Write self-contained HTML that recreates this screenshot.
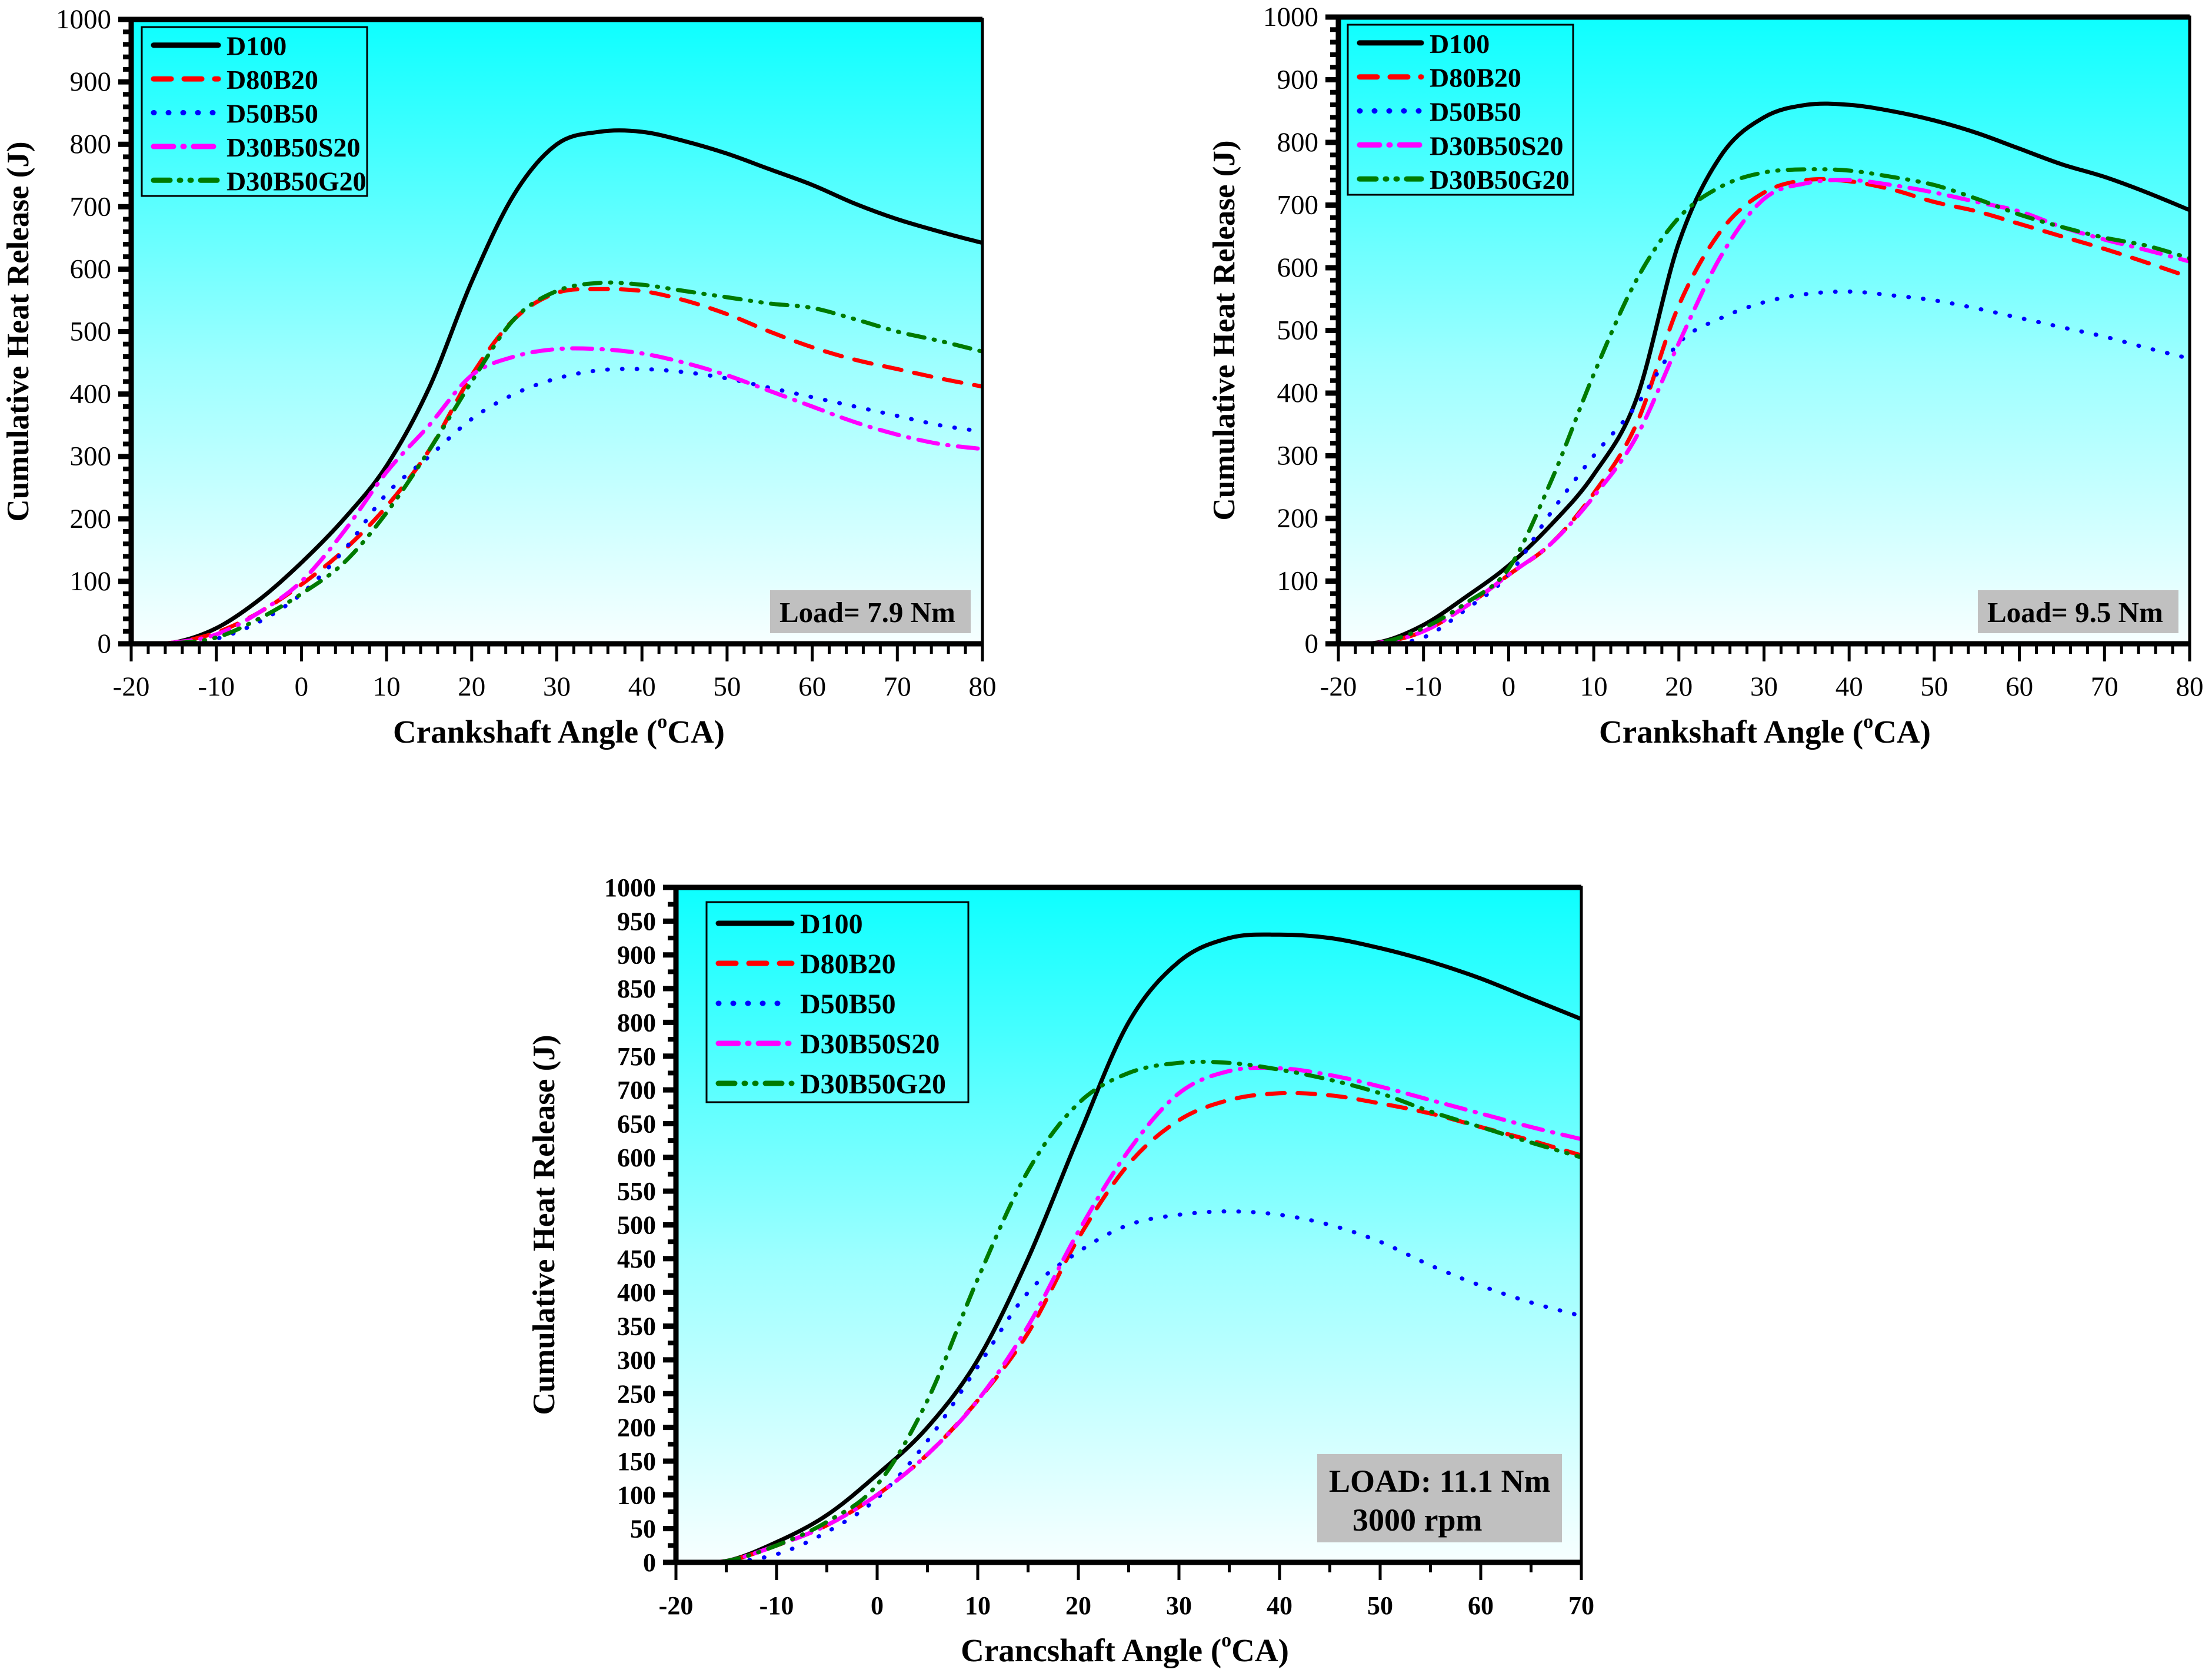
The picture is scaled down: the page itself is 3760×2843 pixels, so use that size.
<!DOCTYPE html>
<html><head><meta charset="utf-8"><style>
html,body{margin:0;padding:0;background:#fff;}
svg{display:block;font-family:"Liberation Serif",serif;}
</style></head><body>
<svg id="fig" width="3760" height="2843" viewBox="0 0 3760 2843" xmlns="http://www.w3.org/2000/svg">
<defs>
<linearGradient id="bg" x1="0" y1="0" x2="0" y2="1">
<stop offset="0" stop-color="#0dffff"/><stop offset="0.55" stop-color="#9dffff"/><stop offset="1" stop-color="#f7ffff"/>
</linearGradient>
</defs>
</svg>
<script>
const xAngles1 = [-20,-15,-10,-5,0,5,10,15,20,25,30,35,40,45,50,55,60,65,70,75,80];
const c1_D100 = [0,2,25,70,130,200,285,410,580,720,800,820,820,805,785,760,735,705,680,660,642];
const c1_D80B20 = [0,2,18,50,95,150,220,310,430,520,562,568,565,550,528,500,475,455,440,425,412];
const c1_D50B50 = [0,0,8,35,80,150,240,300,360,400,425,438,440,435,425,410,395,380,365,350,340];
const c1_S20 = [0,2,15,50,100,180,275,350,430,460,472,472,465,450,430,405,380,355,335,320,312];
const c1_G20 = [0,1,10,40,80,130,210,310,420,520,565,578,575,565,555,545,538,520,500,485,468];

const c2_D100 = [0,3,30,75,125,190,270,390,640,780,840,860,860,850,835,815,790,765,745,720,692];
const c2_D80B20 = [0,2,20,60,110,160,240,350,540,660,720,740,738,725,705,690,670,650,630,608,585];
const c2_D50B50 = [0,0,10,55,110,210,300,380,480,520,545,558,562,556,548,535,520,505,490,472,455];
const c2_S20 = [0,2,20,60,110,160,235,330,480,620,710,735,740,732,720,705,690,665,645,628,610];
const c2_G20 = [0,2,25,65,120,260,430,580,680,730,752,757,755,745,732,710,685,665,648,635,615];

const xAngles3 = [-20,-15,-10,-5,0,5,10,15,20,25,30,35,40,45,50,55,60,65,70];
const c3_D100 = [0,2,30,70,130,200,300,450,630,800,890,925,930,925,910,890,865,835,805];
const c3_D80B20 = [0,2,25,55,100,160,240,340,480,590,655,685,695,692,680,665,645,625,603];
const c3_D50B50 = [0,0,12,45,95,180,290,400,460,500,515,520,515,500,475,440,410,385,365];
const c3_S20 = [0,2,25,55,100,160,240,350,490,610,695,728,732,722,705,685,665,645,627];
const c3_G20 = [0,2,25,60,115,240,420,580,680,725,740,740,730,715,695,668,645,622,600];

const seriesNames = ["D100","D80B20","D50B50","D30B50S20","D30B50G20"];
const xTicks1 = [-20,-10,0,10,20,30,40,50,60,70,80];
const yTicks1 = [0,100,200,300,400,500,600,700,800,900,1000];
const xTicks3 = [-20,-10,0,10,20,30,40,50,60,70];
const yTicks3 = [0,50,100,150,200,250,300,350,400,450,500,550,600,650,700,750,800,850,900,950,1000];

const NS="http://www.w3.org/2000/svg";
const svg=document.getElementById('fig');
const styles=[
 {c:"#000000",d:null},
 {c:"#ff0000",d:"30 22"},
 {c:"#0000ff",d:"1 24"},
 {c:"#ff00ff",d:"34 16 2 16"},
 {c:"#007a00",d:"28 16 2 16 2 16"}
];
function el(tag,attrs,parent){const e=document.createElementNS(NS,tag);for(const k in attrs)e.setAttribute(k,attrs[k]);(parent||svg).appendChild(e);return e;}
function smoothPath(pts){let d="M"+pts[0][0].toFixed(1)+","+pts[0][1].toFixed(1);
 for(let i=0;i<pts.length-1;i++){const p0=pts[i-1]||pts[i],p1=pts[i],p2=pts[i+1],p3=pts[i+2]||p2;
  const c1x=p1[0]+(p2[0]-p0[0])/6,c1y=p1[1]+(p2[1]-p0[1])/6,c2x=p2[0]-(p3[0]-p1[0])/6,c2y=p2[1]-(p3[1]-p1[1])/6;
  d+=" C"+c1x.toFixed(1)+","+c1y.toFixed(1)+" "+c2x.toFixed(1)+","+c2y.toFixed(1)+" "+p2[0].toFixed(1)+","+p2[1].toFixed(1);}
 return d;}

function drawChart(cfg){
 const g=el('g',{});
 
 
 const sx=v=>cfg.x0+(v-cfg.xmin)/(cfg.xmax-cfg.xmin)*(cfg.x1-cfg.x0);
 const sy=v=>cfg.y0-(v)/1000*(cfg.y0-cfg.y1);
 const bg=el('rect',{x:cfg.x0,y:cfg.y1,width:cfg.x1-cfg.x0,height:cfg.y0-cfg.y1,fill:"url(#bg)"},g);
 
 
 const clip=el('clipPath',{id:cfg.name+'-clip'},g);
 el('rect',{x:cfg.x0,y:cfg.y1,width:cfg.x1-cfg.x0,height:cfg.y0-cfg.y1},clip);
 cfg.series.forEach((s,i)=>{
  const pts=s.map((v,j)=>[sx(cfg.xs[j]),sy(v)]);
  const p=el('path',{d:smoothPath(pts),fill:"none",stroke:styles[i].c,"stroke-width":7,"stroke-linecap":"round","stroke-linejoin":"round","clip-path":"url(#"+cfg.name+"-clip)"},g);
  if(styles[i].d)p.setAttribute('stroke-dasharray',styles[i].d);
  
  
 });
 const fr=el('rect',{x:cfg.x0,y:cfg.y1,width:cfg.x1-cfg.x0,height:cfg.y0-cfg.y1,fill:"none",stroke:"#000","stroke-width":5},g);
 
 
 el('line',{x1:cfg.x0-4,y1:cfg.y0,x2:cfg.x1,y2:cfg.y0,stroke:"#000","stroke-width":9},g);
 el('line',{x1:cfg.x0,y1:cfg.y1-4,x2:cfg.x0,y2:cfg.y0+4,stroke:"#000","stroke-width":9},g);
 el('line',{x1:cfg.x0-18,y1:cfg.y1,x2:cfg.x1,y2:cfg.y1,stroke:"#000","stroke-width":9},g);
 for(let v=cfg.xmin;v<=cfg.xmax+1e-6;v+=cfg.xminor){
  const major=Math.abs(v/10-Math.round(v/10))<1e-6;
  el('line',{x1:sx(v),y1:cfg.y0,x2:sx(v),y2:cfg.y0+(major?30:17),stroke:"#000","stroke-width":5},g);
 }
 cfg.xTicks.forEach(v=>{const t=el('text',{x:sx(v),y:cfg.y0+88,"text-anchor":"middle","font-size":cfg.tfs,"font-weight":cfg.bold?"bold":"normal"},g);t.textContent=v;
  
  });
 for(let v=0;v<=1000+1e-6;v+=cfg.yminor){
  const major=Math.abs(v/cfg.ymajor-Math.round(v/cfg.ymajor))<1e-6;
  el('line',{x1:cfg.x0,y1:sy(v),x2:cfg.x0-(major?22:14),y2:sy(v),stroke:"#000","stroke-width":major?9:8},g);
 }
 cfg.yTicks.forEach(v=>{const t=el('text',{x:cfg.x0-34,y:sy(v)+15,"text-anchor":"end","font-size":cfg.tfs,"font-weight":cfg.bold?"bold":"normal"},g);t.textContent=v;
  
  });
 const xt=el('text',{x:cfg.xtX,y:cfg.xtY,"text-anchor":"middle","font-size":55,"font-weight":"bold"},g);
 xt.innerHTML=cfg.xTitle+' (<tspan font-size="34" dy="-25">o</tspan><tspan dy="25">CA)</tspan>';
 
 
 const yt=el('text',{x:0,y:0,"text-anchor":"middle","font-size":53,"font-weight":"bold",transform:"translate("+cfg.ytX+","+((cfg.y0+cfg.y1)/2)+") rotate(-90)"},g);
 yt.textContent="Cumulative Heat Release (J)";
 
 
 const L=cfg.legend;
 const lg=el('g',{},g);
 
 
 el('rect',{x:L.x,y:L.y,width:L.w,height:L.h,fill:"none",stroke:"#000","stroke-width":3},lg);
 const rowH=L.h/5;
 seriesNames.forEach((n,i)=>{
  const cy=L.y+rowH*(i+0.5)+2;
  const ln=el('line',{x1:L.x+20,y1:cy,x2:L.x+20+L.sw,y2:cy,stroke:styles[i].c,"stroke-width":9,"stroke-linecap":"round"},lg);
  if(styles[i].d)ln.setAttribute('stroke-dasharray',styles[i].d);
  const t=el('text',{x:L.x+L.sw+34,y:cy+17,"font-size":L.fs,"font-weight":"bold"},lg);t.textContent=n;
  
  
 });
 const A=cfg.ann;
 const ag=el('g',{},g);
 
 
 el('rect',{x:A.x,y:A.y,width:A.w,height:A.h,fill:"#c0c0c0"},ag);
 A.lines.forEach((s,i)=>{const t=el('text',{x:A.x+A.tx[i],y:A.y+A.ty[i],"font-size":A.fs,"font-weight":"bold"},ag);t.textContent=s;});
}

drawChart({name:"chart-load-7-9",x0:223,x1:1670,y0:1094,y1:33,xmin:-20,xmax:80,xminor:2,ymajor:100,yminor:20,
 xs:xAngles1,series:[c1_D100,c1_D80B20,c1_D50B50,c1_S20,c1_G20],xTicks:xTicks1,yTicks:yTicks1,bold:false,tfs:47,
 xTitle:"Crankshaft Angle",xtX:950,xtY:1262,ytX:48,
 legend:{x:241,y:46,w:383,h:287,sw:110,fs:46},
 ann:{x:1309,y:1003,w:341,h:73,fs:49,lines:["Load= 7.9 Nm"],tx:[16],ty:[54]}});
drawChart({name:"chart-load-9-5",x0:2275,x1:3722,y0:1094,y1:29,xmin:-20,xmax:80,xminor:2,ymajor:100,yminor:20,
 xs:xAngles1,series:[c2_D100,c2_D80B20,c2_D50B50,c2_S20,c2_G20],xTicks:xTicks1,yTicks:yTicks1,bold:false,tfs:47,
 xTitle:"Crankshaft Angle",xtX:3000,xtY:1262,ytX:2098,
 legend:{x:2291,y:42,w:383,h:289,sw:105,fs:46},
 ann:{x:3362,y:1003,w:341,h:73,fs:49,lines:["Load= 9.5 Nm"],tx:[16],ty:[54]}});
drawChart({name:"chart-load-11-1",x0:1149,x1:2688,y0:2655,y1:1508,xmin:-20,xmax:70,xminor:5,ymajor:50,yminor:25,
 xs:xAngles3,series:[c3_D100,c3_D80B20,c3_D50B50,c3_S20,c3_G20],xTicks:xTicks3,yTicks:yTicks3,bold:true,tfs:44,
 xTitle:"Crancshaft Angle",xtX:1912,xtY:2823,ytX:942,
 legend:{x:1201,y:1533,w:445,h:340,sw:125,fs:48},
 ann:{x:2239,y:2471,w:416,h:150,fs:54,lines:["LOAD: 11.1 Nm","3000 rpm"],tx:[20,60],ty:[64,130]}});
</script>
</body></html>
